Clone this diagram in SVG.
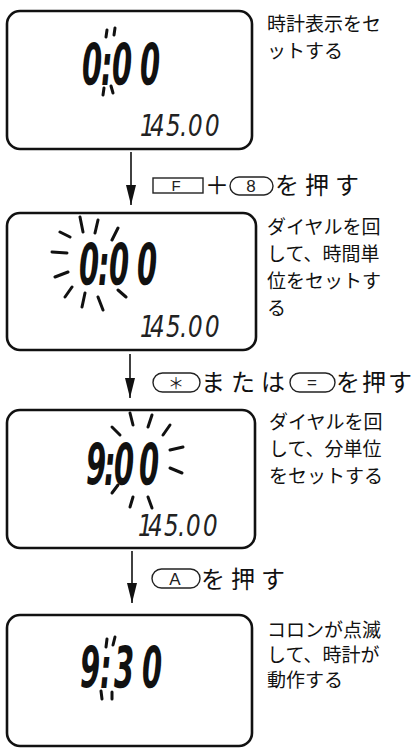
<svg xmlns="http://www.w3.org/2000/svg" width="418" height="749" viewBox="0 0 418 749">
<style>
.box{fill:#fff;stroke:#111;stroke-width:2.6}
.note{font-family:"Noto Sans CJK JP",sans-serif;font-size:19px;fill:#111}
.lbl{font-family:"Noto Sans CJK JP",sans-serif;font-size:24px;fill:#111}
.key{fill:#fff;stroke:#222;stroke-width:1.4}
.keyt{font-family:"Liberation Sans",sans-serif;font-size:17px;fill:#222;text-anchor:middle}
.lcd{font-family:"DejaVu Sans",sans-serif;font-style:italic;font-weight:bold;font-size:29px;fill:#111}
.frq{font-family:"DejaVu Sans",sans-serif;font-style:italic;font-size:23px;fill:#222}
.ray{stroke:#111;stroke-width:3;stroke-linecap:round;fill:none}
.conn{stroke:#111;stroke-width:1.6;fill:none}
</style>
<defs>
<marker id="ah" viewBox="0 0 20 10" refX="20" refY="5" markerWidth="20" markerHeight="10" markerUnits="userSpaceOnUse" orient="auto">
<path d="M0,0 L20,5 L0,10 z" fill="#111"/>
</marker>
</defs>
<rect width="418" height="749" fill="#fff"/>

<g id="display1">
<rect class="box" x="7" y="11" width="245" height="138" rx="13"/>
<text class="lcd" x="82 101 112 140" transform="translate(0,85) scale(1,1.95)">0:00</text>
<path class="ray" d="M107,30 L106,37 M115,28 L114,35 M104,88 L103,95 M111,86 L113,93"/>
<text class="frq" x="140 150 166 180 188 205" transform="translate(0,136) scale(1,1.3)">145.00</text>
</g>
<g id="note1">
<text class="note" x="267" y="31">時計表示をセ</text>
<text class="note" x="267" y="58">ットする</text>
</g>

<g id="display2">
<rect class="box" x="7" y="213" width="249" height="137" rx="13"/>
<text class="lcd" x="79 98 109 137" transform="translate(0,285) scale(1,1.95)">0:00</text>
<path class="ray" d="M80,217 L83,232 M98,220 L95,233 M118,228 L112,240 M60,232 L70,237 M52,252 L67,253 M55,277 L68,272 M65,297 L72,287 M82,307 L85,293 M103,310 L98,297 M118,290 L126,297"/>
<text class="frq" x="140 150 166 180 188 205" transform="translate(0,337) scale(1,1.3)">145.00</text>
</g>
<g id="note2">
<text class="note" x="267" y="234">ダイヤルを回</text>
<text class="note" x="267" y="261">して、時間単</text>
<text class="note" x="267" y="288">位をセットす</text>
<text class="note" x="267" y="315">る</text>
</g>

<g id="display3">
<rect class="box" x="7" y="410" width="248" height="138" rx="13"/>
<text class="lcd" x="86 104 114 139" transform="translate(0,485) scale(1,1.95)">9:00</text>
<path class="ray" d="M130,413 L133,425 M152,415 L148,427 M112,427 L120,435 M170,425 L163,435 M170,450 L183,447 M170,468 L182,473 M112,493 L118,485 M130,507 L133,497 M152,508 L148,497"/>
<text class="frq" x="138 148 164 178 186 203" transform="translate(0,536) scale(1,1.3)">145.00</text>
</g>
<g id="note3">
<text class="note" x="269" y="429">ダイヤルを回</text>
<text class="note" x="269" y="456">して、分単位</text>
<text class="note" x="269" y="483">をセットする</text>
</g>

<g id="display4">
<rect class="box" x="7" y="615" width="245" height="131" rx="13"/>
<text class="lcd" x="80 100 114 142" transform="translate(0,688) scale(1,1.95)">9:30</text>
<path class="ray" d="M107,639 L106,647 M115,637 L113,645 M101,691 L102,699 M112,692 L112,699"/>
</g>
<g id="note4">
<text class="note" x="267" y="637">コロンが点滅</text>
<text class="note" x="267" y="662">して、時計が</text>
<text class="note" x="267" y="687">動作する</text>
</g>

<g id="connectors">
<line class="conn" x1="131" y1="152" x2="131" y2="205" marker-end="url(#ah)"/>
<line class="conn" x1="130" y1="354" x2="130" y2="398" marker-end="url(#ah)"/>
<line class="conn" x1="132" y1="551" x2="132" y2="603" marker-end="url(#ah)"/>
</g>

<g id="label1">
<rect class="key" x="153" y="178" width="50" height="15"/>
<text class="keyt" x="176" y="191" style="font-size:15px">F</text>
<text class="lbl" x="217" y="194" style="text-anchor:middle">＋</text>
<rect class="key" x="230" y="177" width="43" height="18" rx="9"/>
<text class="keyt" x="251" y="192">8</text>
<text class="lbl" x="275" y="194" style="letter-spacing:6px">を押す</text>
</g>

<g id="label2">
<rect class="key" x="153" y="373" width="47" height="19" rx="9.5"/>
<text class="keyt" x="176" y="389" style="font-family:'Noto Sans CJK JP',sans-serif;font-size:16px">＊</text>
<text class="lbl" x="201" y="391" style="letter-spacing:6px">または</text>
<rect class="key" x="290" y="373" width="45" height="19" rx="9.5"/>
<text class="keyt" x="312" y="388">=</text>
<text class="lbl" x="336" y="391" style="letter-spacing:2px">を押す</text>
</g>

<g id="label3">
<rect class="key" x="152" y="569" width="48" height="19" rx="9.5"/>
<text class="keyt" x="175" y="585">A</text>
<text class="lbl" x="201" y="588" style="letter-spacing:6px">を押す</text>
</g>
</svg>
